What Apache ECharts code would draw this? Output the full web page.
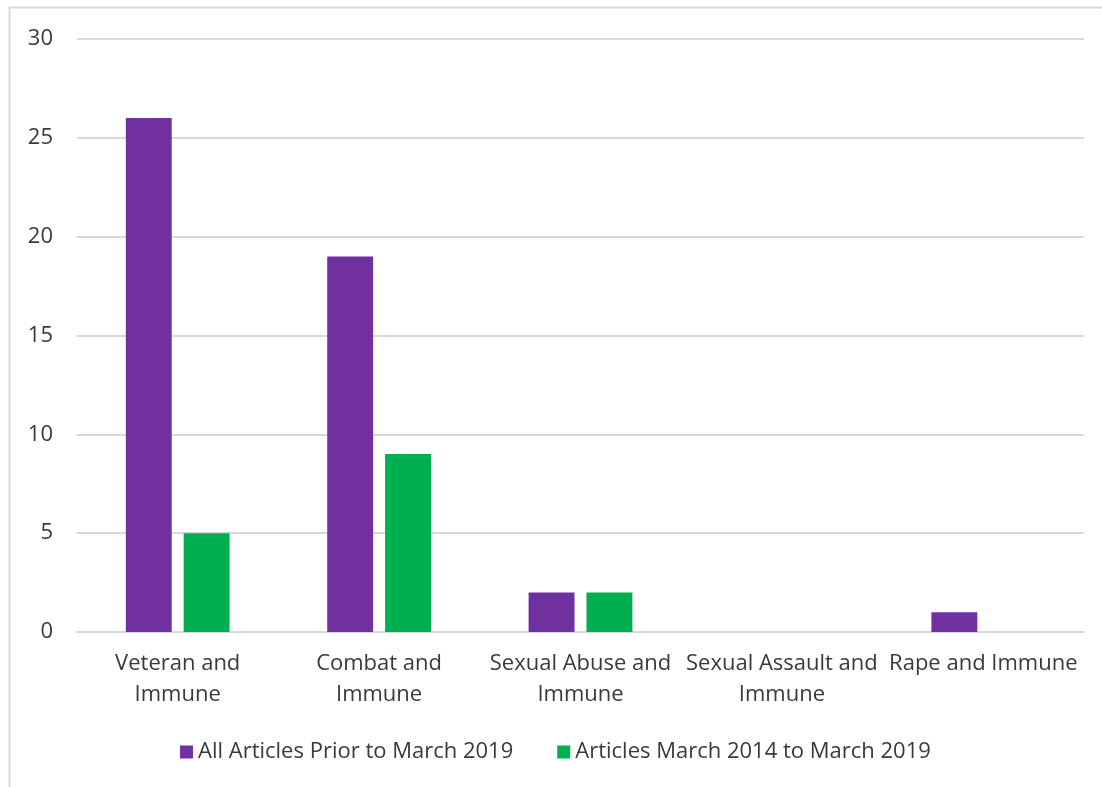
<!DOCTYPE html>
<html><head><meta charset="utf-8">
<script src="https://cdn.jsdelivr.net/npm/echarts@6/dist/echarts.min.js"></script>
<style>html,body{margin:0;padding:0;background:#fff}#c{width:1102px;height:787px}</style>
</head><body><div id="c"></div>
<script>
const categories = ["Veteran and Immune", "Combat and Immune", "Sexual Abuse and Immune", "Sexual Assault and Immune", "Rape and Immune"];
const tickLabels = ["Veteran and\nImmune", "Combat and\nImmune", "Sexual Abuse and\nImmune", "Sexual Assault and\nImmune", "Rape and Immune"];
const seriesNames = ["All Articles Prior to March 2019", "Articles March 2014 to March 2019"];
const allPrior = [26, 19, 2, 0, 1];
const recent = [5, 9, 2, 0, 0];
const yTicks = [0, 5, 10, 15, 20, 25, 30];

const chart = echarts.init(document.getElementById('c'), null, {renderer: 'canvas'});
const font = '"Open Sans", Lato, sans-serif';
chart.setOption({
  animation: false,
  textStyle: {fontFamily: font},
  graphic: [{type: 'rect', shape: {x: 9.5, y: 7.5, width: 1200, height: 900}, style: {fill: 'none', stroke: '#d9d9d9', lineWidth: 2}, silent: true}],
  grid: {left: 77, right: 18, top: 39, bottom: 155, containLabel: false},
  legend: {
    bottom: 19, left: 175, itemWidth: 13, itemHeight: 13, itemGap: 44,
    icon: 'rect',
    textStyle: {fontSize: 22, color: '#3a3a3a', fontFamily: font},
    data: seriesNames
  },
  xAxis: {
    type: 'category', data: categories,
    axisLine: {lineStyle: {color: '#d9d9d9', width: 2}},
    axisTick: {show: false},
    axisLabel: {
      color: '#3a3a3a', fontSize: 22, lineHeight: 31, margin: 16, interval: 0,
      formatter: (v, i) => tickLabels[i]
    }
  },
  yAxis: {
    type: 'value', min: yTicks[0], max: yTicks[yTicks.length - 1], interval: 5,
    axisLine: {show: false}, axisTick: {show: false},
    splitLine: {lineStyle: {color: '#d9d9d9', width: 2}},
    axisLabel: {color: '#3a3a3a', fontSize: 22, margin: 24}
  },
  series: [
    {name: seriesNames[0], type: 'bar', data: allPrior, barWidth: '22.8%', barGap: '26%', itemStyle: {color: '#7030a0'}},
    {name: seriesNames[1], type: 'bar', data: recent, barWidth: '22.8%', itemStyle: {color: '#00b050'}}
  ]
});
</script></body></html>
